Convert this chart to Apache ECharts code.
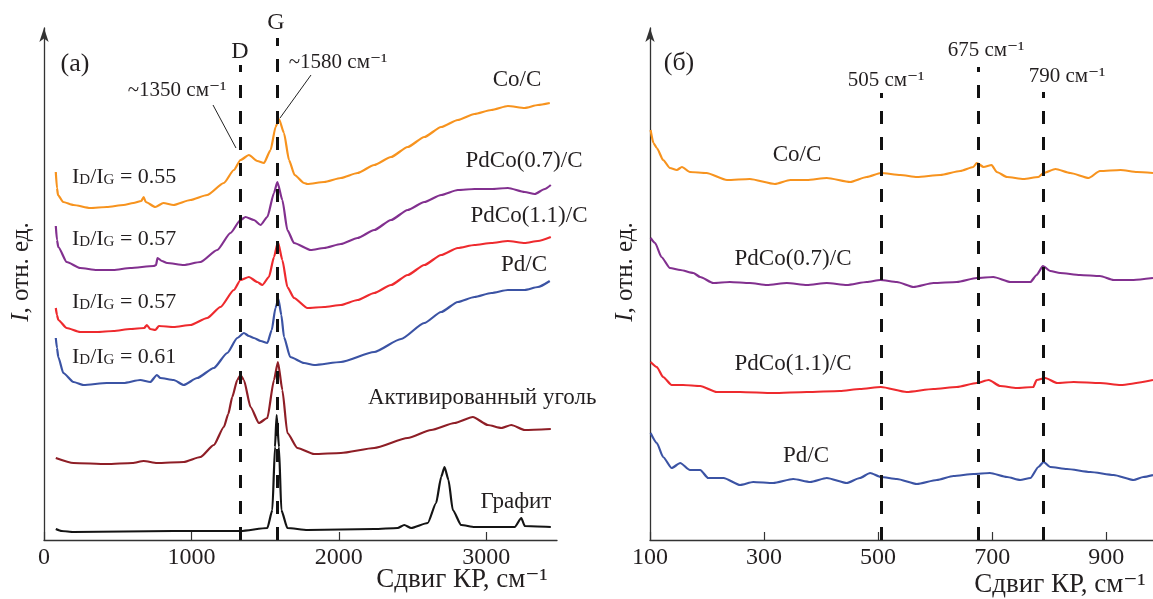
<!DOCTYPE html>
<html>
<head>
<meta charset="utf-8">
<script src="https://cdn.jsdelivr.net/npm/echarts@6.0.0/dist/echarts.min.js"></script>
<style>
  html, body { margin: 0; padding: 0; background: #fff; }
  #chart { width: 1153px; height: 599px; }
</style>
</head>
<body>
<div id="chart"></div>
<script>
// (a) обзорные спектры, x — сдвиг КР (см-1), y — интенсивность (отн. ед.)
const coC_a = [[80,368],[88,352],[95,345],[130,338],[200,335],[313,332],[426,333],[540,335],[606,337],[660,339],[676,343],[690,338],[755,333],[810,337],[878,335],[993,340],[1107,345],[1220,357],[1288,370],[1333,380],[1390,385],[1447,379],[1492,377],[1537,390],[1571,413],[1594,421],[1628,407],[1662,380],[1700,365],[1764,357],[1787,356],[1900,358],[2014,362],[2127,367],[2240,375],[2354,383],[2467,393],[2580,403],[2694,413],[2807,420],[2920,426],[3034,430],[3147,434],[3261,432],[3351,435],[3431,437]];
const pdco07_a = [[80,314],[88,300],[97,293],[154,278],[245,272],[358,270],[471,270],[585,272],[744,274],[760,275],[770,282],[800,279],[835,277],[948,275],[1061,278],[1175,290],[1265,307],[1333,320],[1367,323],[1424,320],[1469,315],[1515,323],[1560,347],[1583,358],[1617,340],[1651,310],[1696,297],[1810,290],[1900,292],[2014,296],[2127,302],[2240,310],[2354,320],[2467,330],[2580,338],[2694,345],[2807,350],[2920,351],[3034,351],[3147,352],[3261,348],[3329,346],[3397,351],[3438,355]];
const pdco11_a = [[80,232],[88,225],[97,220],[154,212],[245,208],[358,208],[471,209],[585,211],[680,212],[698,215],[720,211],[755,210],[780,214],[880,213],[993,215],[1107,222],[1197,233],[1288,250],[1333,260],[1390,263],[1447,258],[1481,255],[1526,263],[1560,283],[1587,298],[1617,280],[1651,253],[1696,242],[1787,232],[1900,233],[2014,235],[2127,240],[2240,247],[2354,255],[2467,265],[2580,275],[2694,285],[2807,292],[2920,295],[3034,297],[3147,299],[3261,297],[3351,299],[3438,303]];
const pd_a = [[80,202],[88,192],[97,183],[131,167],[200,158],[268,155],[426,157],[540,157],[653,160],[721,158],[766,165],[789,162],[880,160],[948,155],[1039,162],[1152,172],[1243,187],[1311,202],[1356,207],[1390,204],[1424,202],[1470,199],[1515,197],[1545,210],[1570,232],[1590,241],[1610,225],[1628,203],[1670,183],[1764,177],[1832,175],[2014,178],[2240,188],[2422,201],[2580,217],[2694,228],[2807,238],[2920,243],[3034,247],[3147,250],[3261,250],[3351,253],[3431,259]];
const ac_a = [[80,82],[200,77],[426,76],[600,77],[676,79],[766,77],[948,78],[1061,83],[1152,95],[1220,113],[1250,126],[1277,143],[1311,160],[1333,165],[1356,160],[1401,133],[1458,117],[1515,122],[1560,160],[1587,178],[1617,150],[1651,107],[1719,92],[1832,86],[2014,87],[2240,92],[2467,102],[2626,110],[2785,117],[2909,123],[3011,115],[3102,112],[3170,115],[3261,110],[3438,111]];
const gr_a = [[80,11],[120,9],[200,8],[880,9],[1333,9],[1515,12],[1549,30],[1567,93],[1578,125],[1594,93],[1610,30],[1651,12],[1787,10],[2240,11],[2399,12],[2444,15],[2490,12],[2603,17],[2660,37],[2694,63],[2717,73],[2744,60],[2773,30],[2830,15],[2920,13],[3193,13],[3238,22],[3261,14],[3438,13]];

// (б) низкочастотная область
const coC_b = [[101,410],[106,397],[112,392],[123,380],[135,372],[147,370],[156,373],[170,368],[199,367],[235,360],[275,361],[319,356],[346,360],[375,360],[410,362],[451,358],[480,363],[505,367],[539,365],[568,363],[609,365],[644,369],[667,373],[673,377],[685,373],[699,375],[708,368],[726,363],[755,361],[781,363],[790,367],[811,371],[837,367],[869,362],[889,369],[925,370],[954,368],[982,367]];
const pdco07_b = [[101,302],[109,297],[120,283],[135,272],[153,270],[176,267],[188,263],[211,257],[240,258],[275,257],[305,255],[340,257],[375,255],[410,257],[445,255],[480,258],[504,260],[533,258],[562,253],[597,257],[638,258],[673,262],[702,263],[732,258],[767,258],[778,265],[789,274],[802,269],[819,267],[854,265],[889,264],[913,260],[948,260],[982,262]];
const pdco11_b = [[101,178],[112,173],[123,163],[138,155],[158,155],[188,154],[217,148],[258,148],[316,147],[375,148],[433,149],[468,151],[505,153],[550,148],[597,151],[638,153],[673,157],[694,160],[714,154],[743,152],[772,153],[778,160],[793,162],[814,157],[843,158],[889,157],[925,155],[982,160]];
const pd_b = [[101,107],[112,97],[123,83],[138,72],[153,77],[170,70],[188,70],[202,62],[229,62],[258,55],[281,58],[316,57],[351,61],[381,58],[410,62],[445,57],[468,62],[486,67],[505,63],[533,61],[568,56],[603,60],[632,64],[667,66],[696,67],[726,63],[749,60],[767,62],[781,73],[790,78],[802,73],[831,71],[872,68],[913,65],[948,60],[965,63],[982,65]];

// отметки пиков (пунктир) и высота их верхнего конца
const peaks_a = [1330, 1585];
const peakTop_a = [475, 502];
const peaks_b = [505, 675, 790];
const peakTop_b = [447, 473, 448];

// подписи делений
const ticks_a = [0, 1000, 2000, 3000];
const ticks_b = [100, 300, 500, 700, 900];

const ratios = ['0.55', '0.57', '0.57', '0.61'];

const FONT = "'Liberation Serif', 'DejaVu Serif', serif";
const INK = '#231f20';
const colors = {
  co: '#f7931e',
  pdco07: '#82308f',
  pdco11: '#ee2a2e',
  pd: '#3b53a4',
  ac: '#8e1e26',
  gr: '#141414'
};

const chart = echarts.init(document.getElementById('chart'));

const lineSeries = (data, color, idx) => ({
  type: 'line',
  data: data,
  xAxisIndex: idx,
  yAxisIndex: idx,
  showSymbol: false,
  smooth: 0.2,
  smoothMonotone: 'x',
  lineStyle: { color: color, width: 2.2 },
  silent: true,
  animation: false
})

const dashed = (xs, tops) => ({
  silent: true,
  symbol: 'none',
  label: { show: false },
  lineStyle: { color: '#111', width: 3, type: [13, 13] },
  data: xs.map((x, i) => [{ coord: [x, 0] }, { coord: [x, tops[i]] }])
})

const xAxisBase = (idx, min, max, ticks) => ({
  type: 'value',
  gridIndex: idx,
  min: min,
  max: max,
  axisLine: { show: true, lineStyle: { color: '#333', width: 1.3 } },
  axisTick: { show: true, inside: true, length: 8, customValues: ticks, lineStyle: { color: '#333', width: 1.2 } },
  axisLabel: {
    customValues: ticks,
    margin: 6,
    fontFamily: FONT,
    fontSize: 24,
    color: INK,
    formatter: (v) => String(v)
  },
  splitLine: { show: false }
})

const yAxisBase = (idx) => ({
  type: 'value',
  gridIndex: idx,
  min: 0,
  max: 512,
  axisLine: { show: true, symbol: ['none', 'arrow'], symbolSize: [7, 14], lineStyle: { color: '#333', width: 1.3 } },
  axisTick: { show: false },
  axisLabel: { show: false },
  splitLine: { show: false }
})

const txt = (text, x, y, size, align, extra) => ({
  type: 'text',
  x: x,
  y: y,
  silent: true,
  style: Object.assign({
    text: text,
    fontFamily: FONT,
    fontSize: size,
    fill: INK,
    align: align || 'center',
    verticalAlign: 'middle'
  }, extra || {})
})

const ratioText = (r, y) => txt('{b|I}{s|D}{b|/I}{s|G}{b| = ' + r + '}', 72, y, 22, 'left', {
  rich: {
    b: { fontFamily: FONT, fontSize: 22, fill: INK, verticalAlign: 'bottom' },
    s: { fontFamily: FONT, fontSize: 15, fill: INK, verticalAlign: 'bottom' }
  }
})

const yName = (x) => txt('{i|I}, отн. ед.', x, 272, 25, 'center', {
  rich: { i: { fontFamily: FONT, fontSize: 25, fontStyle: 'italic', fill: INK } }
})

const leader = (x1, y1, x2, y2) => ({
  type: 'line',
  silent: true,
  shape: { x1: x1, y1: y1, x2: x2, y2: y2 },
  style: { stroke: '#222', lineWidth: 1 }
})

const graphics = [
  // (a)
  txt('(a)', 75, 64, 26),
  txt('D', 240, 52, 24),
  txt('G', 276, 23, 24),
  txt('~1350 см⁻¹', 177, 90, 21),
  txt('~1580 см⁻¹', 338, 62, 21),
  leader(213, 105, 236, 148),
  leader(311, 75, 280, 118),
  txt('Co/C', 517, 80, 23),
  txt('PdCo(0.7)/C', 524, 161, 23),
  txt('PdCo(1.1)/C', 529, 216, 23),
  txt('Pd/C', 524, 265, 23),
  txt('Активированный уголь', 368, 398, 23, 'left'),
  txt('Графит', 516, 502, 23),
  ratioText(ratios[0], 177),
  ratioText(ratios[1], 239),
  ratioText(ratios[2], 302),
  ratioText(ratios[3], 357),
  Object.assign(yName(21), { rotation: Math.PI / 2 }),
  txt('Сдвиг КР, см⁻¹', 462, 580, 27),
  // (б)
  txt('(б)', 679, 63, 26),
  txt('505 см⁻¹', 886, 80, 21),
  txt('675 см⁻¹', 986, 50, 21),
  txt('790 см⁻¹', 1067, 76, 21),
  txt('Co/C', 797, 155, 23),
  txt('PdCo(0.7)/C', 793, 259, 23),
  txt('PdCo(1.1)/C', 793, 364, 23),
  txt('Pd/C', 806, 456, 23),
  Object.assign(yName(625), { rotation: Math.PI / 2 }),
  txt('Сдвиг КР, см⁻¹', 1060, 585, 27)
]

const option = {
  animation: false,
  backgroundColor: '#fff',
  grid: [
    { left: 44, top: 28, width: 513, height: 512 },
    { left: 650, top: 28, width: 503, height: 512 }
  ],
  xAxis: [
    xAxisBase(0, 0, 3480, ticks_a),
    xAxisBase(1, 100, 982, ticks_b)
  ],
  yAxis: [yAxisBase(0), yAxisBase(1)],
  series: [
    lineSeries(coC_a, colors.co, 0),
    lineSeries(pdco07_a, colors.pdco07, 0),
    lineSeries(pdco11_a, colors.pdco11, 0),
    lineSeries(pd_a, colors.pd, 0),
    lineSeries(ac_a, colors.ac, 0),
    Object.assign(lineSeries(gr_a, colors.gr, 0), { markLine: dashed(peaks_a, peakTop_a) }),
    lineSeries(coC_b, colors.co, 1),
    lineSeries(pdco07_b, colors.pdco07, 1),
    lineSeries(pdco11_b, colors.pdco11, 1),
    Object.assign(lineSeries(pd_b, colors.pd, 1), { markLine: dashed(peaks_b, peakTop_b) })
  ],
  graphic: graphics
}

chart.setOption(option)
</script>
</body>
</html>
